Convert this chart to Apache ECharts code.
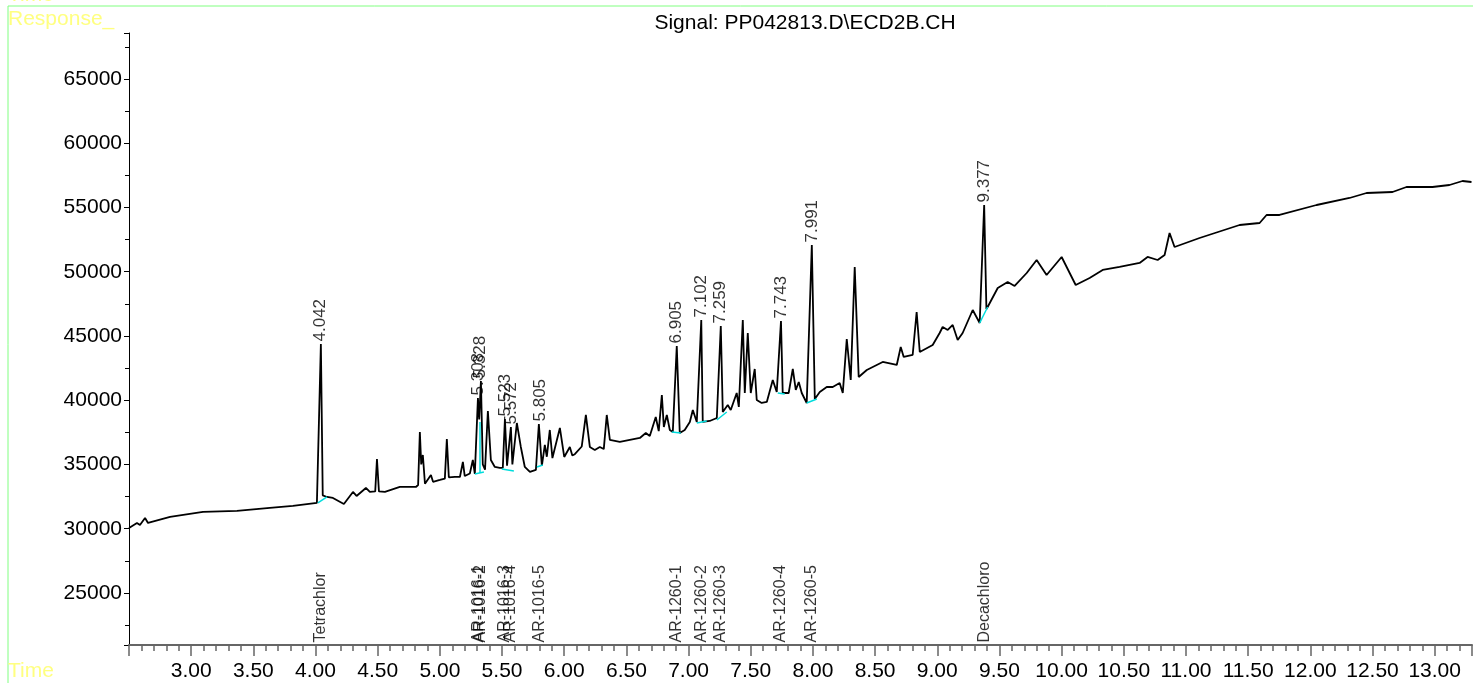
<!DOCTYPE html>
<html>
<head>
<meta charset="utf-8">
<script src="https://cdn.jsdelivr.net/npm/echarts@6/dist/echarts.min.js"></script>
<style>
html, body { margin: 0; padding: 0; background: #fff; }
#chart { width: 1473px; height: 683px; }
</style>
</head>
<body>
<div id="chart"></div>
<script>
// retention time (min) and detector response
var times = [
  2.500, 2.564, 2.588, 2.629, 2.653, 2.830, 3.095, 3.368, 3.633, 3.818,
  4.011, 4.027, 4.043, 4.058, 4.092, 4.140, 4.228, 4.301, 4.330, 4.405,
  4.437, 4.480, 4.494, 4.510, 4.558, 4.678, 4.807, 4.825, 4.839, 4.850,
  4.863, 4.880, 4.895, 4.928, 4.945, 5.000, 5.040, 5.056, 5.072, 5.121,
  5.161, 5.185, 5.200, 5.241, 5.265, 5.281, 5.306, 5.316, 5.330, 5.345,
  5.363, 5.386, 5.410, 5.442, 5.482, 5.506, 5.523, 5.540, 5.571, 5.583,
  5.619, 5.651, 5.683, 5.724, 5.772, 5.796, 5.820, 5.844, 5.860, 5.884,
  5.905, 5.965, 6.000, 6.045, 6.065, 6.085, 6.141, 6.174, 6.206, 6.246,
  6.286, 6.318, 6.342, 6.367, 6.447, 6.608, 6.656, 6.688, 6.736, 6.760,
  6.785, 6.801, 6.825, 6.849, 6.873, 6.905, 6.929, 6.969, 7.010, 7.034,
  7.066, 7.102, 7.114, 7.170, 7.227, 7.259, 7.275, 7.315, 7.339, 7.387,
  7.404, 7.436, 7.452, 7.476, 7.500, 7.532, 7.548, 7.588, 7.629, 7.677,
  7.709, 7.743, 7.757, 7.805, 7.838, 7.862, 7.886, 7.910, 7.950, 7.991,
  8.015, 8.055, 8.111, 8.159, 8.215, 8.240, 8.272, 8.304, 8.336, 8.368,
  8.433, 8.561, 8.674, 8.706, 8.730, 8.802, 8.834, 8.859, 8.963, 9.019,
  9.043, 9.084, 9.124, 9.164, 9.204, 9.285, 9.341, 9.377, 9.395, 9.405,
  9.486, 9.566, 9.622, 9.719, 9.799, 9.879, 10.000, 10.113, 10.225, 10.330,
  10.466, 10.627, 10.691, 10.772, 10.828, 10.868, 10.908, 11.109, 11.431, 11.592,
  11.648, 11.752, 12.050, 12.315, 12.452, 12.661, 12.773, 12.982, 13.119, 13.224,
  13.296
];
var responses = [
  30058, 30447, 30292, 30837, 30447, 30914, 31303, 31381, 31615, 31770,
  32004, 32000, 44377, 32600, 32471, 32393, 31926, 32860, 32550, 33171,
  32860, 32900, 35428, 32900, 32860, 33250, 33249, 33400, 37529, 35000,
  35739, 33500, 33560, 34183, 33650, 33794, 33900, 36984, 34000, 34027,
  34027, 35194, 34100, 34300, 35350, 34261, 40175, 38500, 41500, 35000,
  34600, 39163, 35350, 34805, 34728, 34728, 38541, 34900, 37918, 35000,
  38229, 36362, 34805, 34416, 34572, 38152, 34883, 36517, 35600, 37685,
  35500, 37840, 35584, 36362, 35700, 35800, 36400, 38852, 36362, 36128,
  36362, 36200, 38852, 36906, 36751, 37062, 37451, 37218, 38696, 37600,
  40408, 37918, 38852, 37685, 37529, 44222, 37451, 37685, 38307, 39241,
  38307, 46245, 38307, 38385, 38619, 45778, 39085, 39630, 39241, 40564,
  39475, 46245, 40564, 45233, 40564, 42432, 40019, 39786, 39864, 41576,
  40642, 46167, 40564, 40564, 42432, 40797, 41420, 40564, 39786, 52081,
  40097, 40642, 41031, 41031, 41342, 40564, 44766, 41576, 50369, 41809,
  42354, 42976, 42743, 44144, 43366, 43521, 46867, 43755, 44299, 45233,
  45700, 45467, 45856, 44688, 45233, 47023, 46011, 55194, 47100, 47257,
  48735, 49202, 48891, 49902, 50914, 49747, 51148, 48969, 49513, 50136,
  50370, 50681, 51148, 50914, 51303, 53015, 51926, 52626, 53638, 53793,
  54416, 54416, 55194, 55739, 56128, 56206, 56595, 56595, 56751, 57062,
  56984
];

// integrated peaks
var peakTimes  = [4.042, 5.308, 5.328, 5.523, 5.572, 5.805, 6.905, 7.102, 7.259, 7.743, 7.991, 9.377];
var peakHeights = [44377, 40175, 41500, 38541, 37918, 38152, 44222, 46245, 45778, 46167, 52081, 55194];

// compound names shown along the bottom
var compoundTimes = [4.042, 5.308, 5.328, 5.523, 5.572, 5.805, 6.905, 7.102, 7.259, 7.743, 7.991, 9.377];
var compoundNames = ['Tetrachlor', 'AR-1016-1', 'AR-1016-2', 'AR-1016-3', 'AR-1016-4', 'AR-1016-5',
  'AR-1260-1', 'AR-1260-2', 'AR-1260-3', 'AR-1260-4', 'AR-1260-5', 'Decachloro'];

// integration baselines: [startTime, startResp, endTime, endResp]
var baselines = [
  [4.019, 32004, 4.092, 32471],
  [5.281, 34261, 5.354, 34416],
  [5.322, 34340, 5.322, 38300],
  [5.498, 34650, 5.595, 34500],
  [5.780, 34805, 5.828, 34960],
  [6.865, 37529, 6.937, 37451],
  [7.066, 38229, 7.146, 38385],
  [7.227, 38463, 7.307, 39085],
  [7.717, 40564, 7.773, 40486],
  [7.950, 39786, 8.031, 40097],
  [9.341, 46011, 9.405, 47257]
];

var xMin = 2.5, xMax = 13.3;
var yMin = 20950, yMax = 68580;
var font = 'Liberation Sans, Arial, sans-serif';

var chart = echarts.init(document.getElementById('chart'));

var option = {
  animation: false,
  backgroundColor: '#fff',
  title: {
    text: 'Signal: PP042813.D\\ECD2B.CH',
    left: 800,
    top: 8,
    textAlign: 'center',
    textStyle: { fontFamily: font, fontSize: 21, fontWeight: 'normal', color: '#000' }
  },
  grid: { left: 129, right: 1, top: 33, bottom: 38, containLabel: false, outerBoundsMode: 'none' },
  xAxis: {
    type: 'value',
    min: xMin,
    max: xMax,
    interval: 0.5,
    axisLine: { lineStyle: { color: '#666', width: 2 } },
    axisTick: { length: 11, lineStyle: { color: '#666', width: 1.5 } },
    minorTick: { show: true, splitNumber: 5, length: 6, lineStyle: { color: '#666', width: 1.5 } },
    splitLine: { show: false },
    axisLabel: {
      fontFamily: font, fontSize: 21, color: '#000', margin: 16,
      showMinLabel: false, showMaxLabel: false,
      formatter: function (v) { return v.toFixed(2); }
    }
  },
  yAxis: {
    type: 'value',
    min: yMin,
    max: yMax,
    splitNumber: 10,
    axisLine: { show: true, lineStyle: { color: '#000', width: 1 } },
    axisTick: { show: true, length: 5, lineStyle: { color: '#000' } },
    minorTick: { show: true, splitNumber: 2, length: 4, lineStyle: { color: '#000' } },
    splitLine: { show: false },
    axisLabel: {
      fontFamily: font, fontSize: 21, color: '#000', margin: 7,
      showMinLabel: false, showMaxLabel: false,
      formatter: function (v) { return String(v); }
    }
  },
  graphic: [
    { type: 'line', shape: { x1: 8, y1: 6, x2: 1473, y2: 6 }, style: { stroke: '#80ff80', lineWidth: 1 } },
    { type: 'line', shape: { x1: 8, y1: 6, x2: 8, y2: 683 }, style: { stroke: '#80ff80', lineWidth: 1 } },
    { type: 'text', left: 8, top: -15, style: { text: 'Time', fill: '#ffff80', font: '21px ' + font } },
    { type: 'text', left: 8, top: 9, style: { text: 'Response_', fill: '#ffff80', font: '21px ' + font } },
    { type: 'text', left: 8, top: 661, style: { text: 'Time', fill: '#ffff80', font: '21px ' + font } }
  ],
  series: [
    {
      type: 'line',
      data: times.map(function (t, i) { return [t, responses[i]]; }),
      showSymbol: false,
      lineStyle: { color: '#000', width: 1.8 },
      z: 3
    },
    {
      type: 'lines',
      coordinateSystem: 'cartesian2d',
      data: baselines.map(function (b) { return { coords: [[b[0], b[1]], [b[2], b[3]]] }; }),
      lineStyle: { color: '#00dcdc', width: 1.5, opacity: 1 },
      z: 4
    },
    {
      type: 'scatter',
      data: peakTimes.map(function (t, i) { return [t, peakHeights[i], t.toFixed(3)]; }),
      symbolSize: 1,
      itemStyle: { color: 'rgba(0,0,0,0)' },
      label: {
        show: true, position: 'top', distance: 2, rotate: 90, align: 'left', verticalAlign: 'middle',
        fontFamily: font, fontSize: 17, color: '#000',
        formatter: function (p) { return p.value[2]; }
      },
      z: 5
    },
    {
      type: 'scatter',
      data: compoundTimes.map(function (t, i) { return [t, yMin, compoundNames[i]]; }),
      symbolSize: 1,
      itemStyle: { color: 'rgba(0,0,0,0)' },
      label: {
        show: true, position: 'top', distance: 2, rotate: 90, align: 'left', verticalAlign: 'middle',
        fontFamily: font, fontSize: 16, color: '#000',
        formatter: function (p) { return p.value[2]; }
      },
      z: 5
    }
  ]
};

chart.setOption(option);
</script>
</body>
</html>
